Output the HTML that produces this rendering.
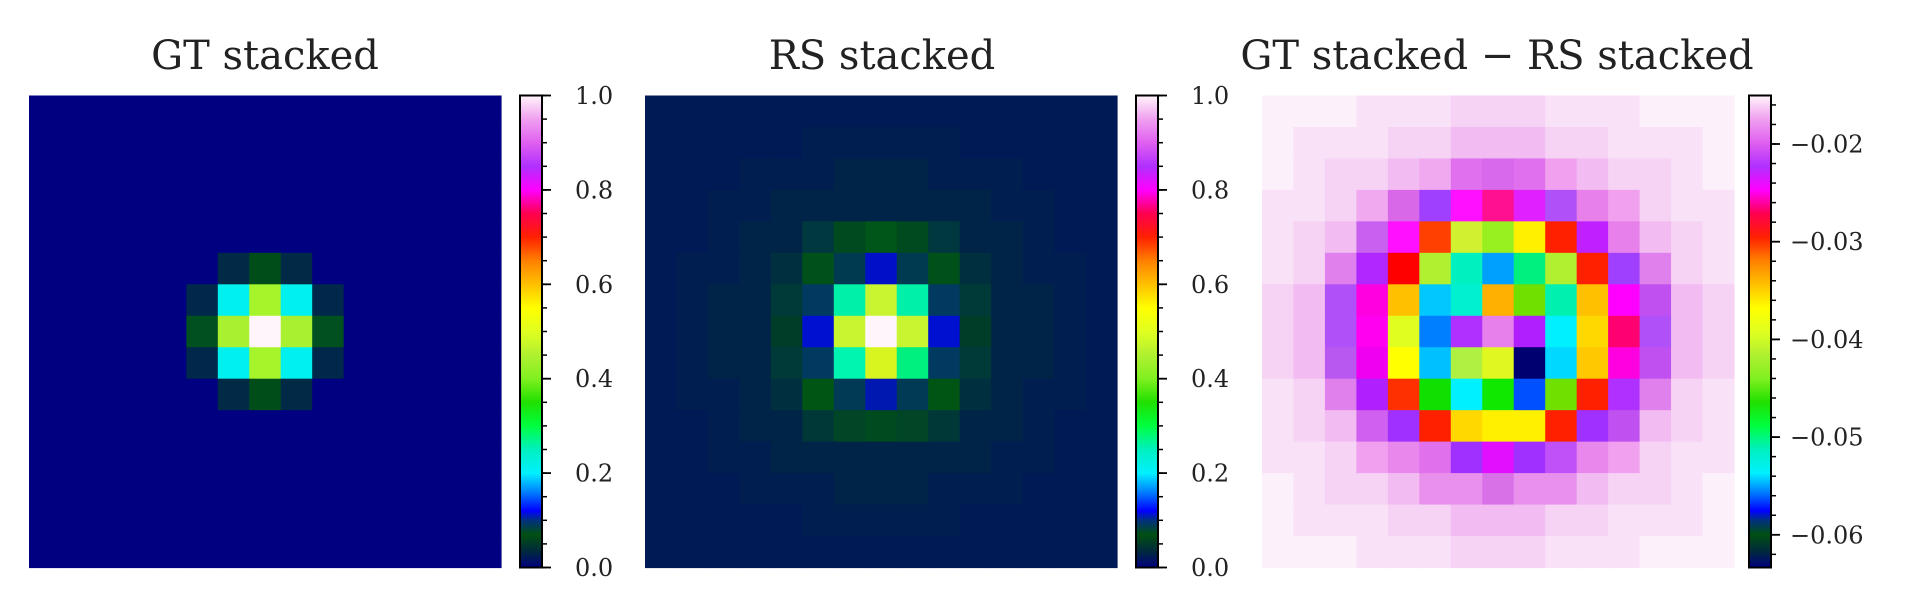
<!DOCTYPE html>
<html><head><meta charset="utf-8">
<style>
html,body{margin:0;padding:0;background:#fff;}
svg{display:block;}
text{font-family:"DejaVu Serif","Liberation Serif",serif;fill:#222;}
</style></head>
<body>
<svg id="s" width="1920" height="606" xmlns="http://www.w3.org/2000/svg">
<defs>
<linearGradient id="ncar" x1="0" y1="1" x2="0" y2="0">
<stop offset="0" stop-color="#000080"/>
<stop offset="0.035" stop-color="#002a3c"/>
<stop offset="0.07" stop-color="#005010"/>
<stop offset="0.1" stop-color="#003080"/>
<stop offset="0.12" stop-color="#0000ff"/>
<stop offset="0.16" stop-color="#0080ff"/>
<stop offset="0.2" stop-color="#00f0ff"/>
<stop offset="0.25" stop-color="#00f0c0"/>
<stop offset="0.3" stop-color="#00ff40"/>
<stop offset="0.35" stop-color="#20e000"/>
<stop offset="0.4" stop-color="#80f020"/>
<stop offset="0.45" stop-color="#b0f030"/>
<stop offset="0.5" stop-color="#e0ff20"/>
<stop offset="0.55" stop-color="#ffff00"/>
<stop offset="0.6" stop-color="#ffc000"/>
<stop offset="0.65" stop-color="#ff8000"/>
<stop offset="0.7" stop-color="#ff2000"/>
<stop offset="0.75" stop-color="#ff0050"/>
<stop offset="0.8" stop-color="#ff00ff"/>
<stop offset="0.85" stop-color="#b030ff"/>
<stop offset="0.9" stop-color="#e060f0"/>
<stop offset="0.95" stop-color="#f0a0f0"/>
<stop offset="1" stop-color="#fff5fa"/>
</linearGradient>
</defs>
<text x="265" y="69" font-size="40" text-anchor="middle">GT stacked</text>
<text x="882" y="69" font-size="40" text-anchor="middle">RS stacked</text>
<text x="1497" y="69" font-size="40" text-anchor="middle">GT stacked − RS stacked</text>
<g id="g"></g>
</svg>
<script>
(function(){
var g=document.getElementById('g'),h='';
function rect(x,y,w,hh,c){h+='<rect x="'+x+'" y="'+y+'" width="'+w+'" height="'+hh+'" fill="'+c+'"/>';}
var T0=95.5,H=472,cs=H/15;
function panel(x0,fn){for(var r=0;r<15;r++)for(var c=0;c<15;c++){rect((x0+c*cs).toFixed(2),(T0+r*cs).toFixed(2),(cs+0.6).toFixed(2),(cs+0.6).toFixed(2),fn(r,c));}}
var p1={};
function s1(r,c,v){p1[r+','+c]=v;}
s1(5,6,'#002a45');s1(5,7,'#004d1a');s1(5,8,'#002a45');
s1(9,6,'#002a45');s1(9,7,'#004d1a');s1(9,8,'#002a45');
s1(6,5,'#00284a');s1(6,6,'#00f0f0');s1(6,7,'#a6f52a');s1(6,8,'#00f0f0');s1(6,9,'#00284a');
s1(8,5,'#00284a');s1(8,6,'#00f0f0');s1(8,7,'#a6f52a');s1(8,8,'#00f0f0');s1(8,9,'#00284a');
s1(7,5,'#005020');s1(7,6,'#a8f030');s1(7,7,'#fff5fa');s1(7,8,'#a8f030');s1(7,9,'#005020');
panel(29,function(r,c){return p1[r+','+c]||'#000080';});
var p2={};
[[5,5,'#00501a'],[5,6,'#003a50'],[5,7,'#0010c8'],[5,8,'#003a50'],[5,9,'#00501a'],
[6,4,'#003a38'],[6,5,'#003a60'],[6,6,'#00f0a8'],[6,7,'#c8f530'],[6,8,'#00f0a8'],[6,9,'#003a60'],[6,10,'#003a38'],
[7,4,'#003d28'],[7,5,'#0010d0'],[7,6,'#c8f530'],[7,7,'#fff5fa'],[7,8,'#c8f530'],[7,9,'#0010d0'],[7,10,'#003d28'],
[8,4,'#003a38'],[8,5,'#003a60'],[8,6,'#00f5b0'],[8,7,'#d8f520'],[8,8,'#00f080'],[8,9,'#003a60'],[8,10,'#003a38'],
[9,5,'#005515'],[9,6,'#003a55'],[9,7,'#0018b0'],[9,8,'#003a55'],[9,9,'#005515'],
[4,5,'#003840'],[4,6,'#004a20'],[4,7,'#005518'],[4,8,'#004a20'],[4,9,'#003840'],
[10,5,'#003838'],[10,6,'#004525'],[10,7,'#004a20'],[10,8,'#004525'],[10,9,'#003838']
].forEach(function(a){p2[a[0]+','+a[1]]=a[2];});
panel(645,function(r,c){var k=p2[r+','+c];if(k)return k;var d=Math.sqrt((r-7)*(r-7)+(c-7)*(c-7));
if(d<=3.7)return '#00303f';if(d<=5.2)return '#002448';if(d<=6.6)return '#001e50';return '#001a55';});
var M={
3:['#f0a8ee','#d868e8','#a040ff','#ff10ff','#ff1090','#e020ff','#b050f8','#e880ec','#f0a0ee'],
4:['#c860f0','#ff10ff','#ff4000','#d0f030','#98f020','#fff000','#ff2000','#c020ff','#e880ec'],
5:['#b028ff','#ff0000','#b0f030','#00f0c0','#00a0ff','#00f080','#b0f030','#ff2000','#a040ff'],
6:['#ff00e0','#ffc000','#00c8ff','#00f0d0','#ffb000','#70e000','#00f0b0','#ffc000','#ff00ff'],
7:['#ff00f0','#e0ff20','#0080ff','#b030ff','#e880ec','#b020ff','#00f0ff','#ffd800','#ff0070'],
8:['#f000f0','#ffff00','#00c0ff','#b0f040','#e0f820','#000070','#00d8ff','#ffc800','#ff00e0'],
9:['#b020ff','#ff3000','#10e000','#00f0ff','#10e800','#0050ff','#70e000','#ff2000','#b030ff'],
10:['#d060f0','#a030ff','#ff2000','#ffd800','#fff000','#fff000','#ff2000','#a030ff','#c050f0'],
11:['#f0a0ee','#e888ec','#e070ec','#a030ff','#e010ff','#a030ff','#c050f8','#e888ec','#f0a0ee']};
var ex={'2,5':'#f0a8ee','2,6':'#e070ee','2,7':'#d868ec','2,8':'#e070ee','2,9':'#f0a0ee',
'12,5':'#e890ec','12,6':'#e890ec','12,7':'#d870e8','12,8':'#e890ec','12,9':'#e890ec',
'5,2':'#e080ec','6,2':'#b050f8','7,2':'#b050f8','8,2':'#b858f0','9,2':'#e080ec',
'5,12':'#e080ec','6,12':'#c050f0','7,12':'#b050f8','8,12':'#c050f0','9,12':'#e080ec'};
panel(1262,function(r,c){if(M[r]&&c>=3&&c<=11)return M[r][c-3];var k=ex[r+','+c];if(k)return k;
var d=Math.sqrt((r-7)*(r-7)+(c-7)*(c-7));
if(d<=5.2)return '#eca0ee';if(d<=6.2)return '#f2bcf2';if(d<=7.2)return '#f6d2f5';if(d<=8.5)return '#f9e2f8';return '#fcf0fb';});
function cbar(x,ticks,minors){
 rect(x,T0,22,H,'url(#ncar)');
 h+='<rect x="'+x+'" y="'+T0+'" width="22" height="'+H+'" fill="none" stroke="#000" stroke-width="2"/>';
 minors.forEach(function(y){h+='<line x1="'+(x+22)+'" x2="'+(x+27)+'" y1="'+y+'" y2="'+y+'" stroke="#000" stroke-width="1.5"/>';});
 ticks.forEach(function(t){h+='<line x1="'+(x+22)+'" x2="'+(x+31)+'" y1="'+t[0]+'" y2="'+t[0]+'" stroke="#000" stroke-width="1.8"/>';
  h+='<text x="'+(x+55)+'" y="'+(t[0]+8.5)+'" font-size="24">'+t[1]+'</text>';});
}
function mk(x){var t=[],m=[];for(var i=0;i<=5;i++)t.push([T0+H-i*H/5,(i*0.2).toFixed(1)]);
 for(var j=0;j<=20;j++)m.push(T0+H-j*H/20);cbar(x,t,m);}
mk(520);mk(1136);
var t3=[],m3=[];var y02=144,step=97.7;
for(var i=0;i<5;i++)t3.push([y02+i*step,'−0.0'+(2+i)]);
for(var j=-2;j<=22;j++){var y=y02+j*step/5;if(y>=T0&&y<=T0+H)m3.push(y);}
cbar(1749,[],m3);
t3.forEach(function(t){h+='<line x1="1771" x2="1780" y1="'+t[0]+'" y2="'+t[0]+'" stroke="#000" stroke-width="1.8"/>';
 h+='<text x="1790" y="'+(t[0]+8.5)+'" font-size="24">'+t[1]+'</text>';});
g.innerHTML=h;
})();
</script>
</body></html>
